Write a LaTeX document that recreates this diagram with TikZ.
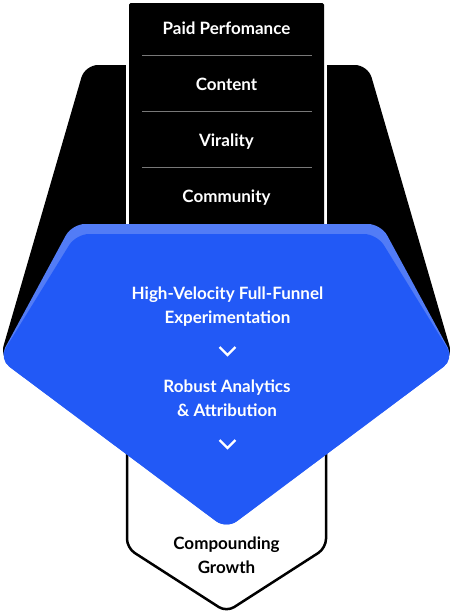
\documentclass[tikz,border=0pt]{standalone}
\usepackage{fontspec}
\setmainfont{Lato}
\definecolor{mainblue}{RGB}{34,89,246}
\definecolor{lightblue}{RGB}{82,124,246}
\definecolor{sepgray}{RGB}{120,120,120}
\begin{document}
\begin{tikzpicture}[x=1pt,y=-1pt,
  lbl/.style={font=\fontsize{17}{24}\selectfont\bfseries, text=white, align=center, inner sep=0pt, anchor=base},
  dlbl/.style={lbl, text=black},
  sepline/.style={draw=sepgray, line width=0.9pt},
  chev/.style={draw=white, line width=2.4pt, line join=miter}
]
\useasboundingbox (0,0) rectangle (454,614);
% black trapezoid
\fill[black, rounded corners=13pt] (226.5,65) -- (85,65) -- (0,358) -- (226.5,520) -- (453,358) -- (368,65) -- cycle;
% column with white gap
\fill[white] (126,0) rectangle (327,245);
\fill[black, rounded corners=1.5pt] (129,3) rectangle (324,245);
\draw[sepline] (142,55) -- (312,55);
\draw[sepline] (142,111) -- (312,111);
\draw[sepline] (142,167) -- (312,167);
\node[lbl] (paid) at (226.5,34) {Paid Perfomance};
\node[lbl] (content) at (226.5,90) {Content};
\node[lbl] (virality) at (226.5,146) {Virality};
\node[lbl] (community) at (226.5,202) {Community};
% bottom white shape
\draw[line width=2.5pt, fill=white, rounded corners=9pt] (127,420) -- (127,548) -- (226.5,612) -- (326,548) -- (326,420);
% blue shapes
\fill[lightblue, rounded corners=13pt] (226.5,224) -- (72,224) -- (-1,359) -- (226.5,529) -- (454,359) -- (381,224) -- cycle;
\fill[mainblue, rounded corners=13pt] (226.5,234) -- (76,234) -- (-1,359) -- (226.5,529) -- (454,359) -- (377,234) -- cycle;
\node[lbl] (hv) at (227.5,323) {High-Velocity Full-Funnel\\Experimentation};
\node[lbl] (ra) at (227,416) {Robust Analytics\\\& Attribution};
\node[dlbl] (cg) at (226.5,573) {Compounding\\Growth};
% chevrons
\coordinate (c1) at (227.5,355);
\coordinate (c2) at (227.5,448);
\draw[chev] ([shift={(-8,-8)}]c1) -- (c1) -- ([shift={(8,-8)}]c1);
\draw[chev] ([shift={(-8,-8)}]c2) -- (c2) -- ([shift={(8,-8)}]c2);
\end{tikzpicture}
\end{document}
